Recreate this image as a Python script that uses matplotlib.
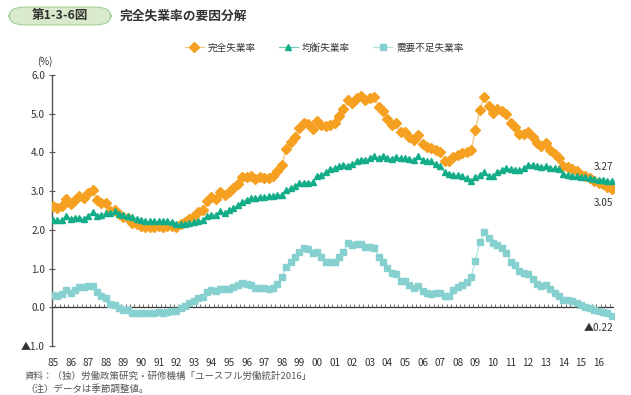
import numpy as np
import matplotlib
matplotlib.use("Agg")
import matplotlib.pyplot as plt
from matplotlib.patches import FancyBboxPatch

plt.rcParams['font.family'] = ['Noto Sans CJK JP', 'DejaVu Sans']

# quarterly, 1985Q1 - 2016Q4 (seasonally adjusted, %)
total = [2.61, 2.57, 2.61, 2.80, 2.67, 2.76, 2.87, 2.81, 2.94, 3.02,
         2.76, 2.70, 2.69, 2.50, 2.52, 2.40, 2.33, 2.30, 2.18, 2.14,
         2.10, 2.08, 2.08, 2.08, 2.10, 2.08, 2.10, 2.10, 2.07, 2.14,
         2.20, 2.27, 2.35, 2.45, 2.52, 2.74, 2.85, 2.80, 2.97, 2.91,
         2.99, 3.08, 3.19, 3.36, 3.36, 3.40, 3.31, 3.36, 3.34, 3.34,
         3.40, 3.53, 3.68, 4.09, 4.26, 4.41, 4.63, 4.76, 4.74, 4.60,
         4.82, 4.72, 4.67, 4.72, 4.76, 4.93, 5.12, 5.36, 5.27, 5.40,
         5.46, 5.36, 5.40, 5.44, 5.17, 5.06, 4.86, 4.72, 4.76, 4.52,
         4.54, 4.41, 4.31, 4.46, 4.22, 4.14, 4.11, 4.05, 4.02, 3.79,
         3.77, 3.88, 3.94, 3.98, 4.01, 4.06, 4.57, 5.10, 5.43, 5.20,
         5.03, 5.12, 5.08, 4.99, 4.76, 4.66, 4.48, 4.48, 4.53, 4.41,
         4.24, 4.17, 4.24, 4.06, 3.97, 3.85, 3.64, 3.62, 3.57, 3.51,
         3.42, 3.38, 3.34, 3.27, 3.21, 3.19, 3.11, 3.05]

equilibrium = [2.25, 2.25, 2.25, 2.35, 2.29, 2.31, 2.31, 2.29, 2.36, 2.45,
               2.37, 2.39, 2.43, 2.43, 2.48, 2.41, 2.39, 2.35, 2.33, 2.29,
               2.25, 2.23, 2.22, 2.22, 2.22, 2.22, 2.22, 2.20, 2.16, 2.14,
               2.16, 2.18, 2.20, 2.22, 2.25, 2.35, 2.39, 2.39, 2.48, 2.43,
               2.52, 2.57, 2.63, 2.71, 2.78, 2.82, 2.81, 2.84, 2.84, 2.87,
               2.88, 2.91, 2.91, 3.04, 3.08, 3.13, 3.21, 3.22, 3.22, 3.23,
               3.40, 3.42, 3.49, 3.57, 3.60, 3.64, 3.68, 3.66, 3.69, 3.77,
               3.81, 3.81, 3.85, 3.90, 3.85, 3.90, 3.85, 3.84, 3.88, 3.85,
               3.85, 3.83, 3.81, 3.90, 3.80, 3.77, 3.77, 3.70, 3.64, 3.49,
               3.45, 3.42, 3.41, 3.38, 3.34, 3.27, 3.36, 3.42, 3.49, 3.40,
               3.38, 3.49, 3.55, 3.59, 3.57, 3.55, 3.55, 3.59, 3.68, 3.68,
               3.64, 3.62, 3.64, 3.59, 3.59, 3.57, 3.45, 3.42, 3.40, 3.38,
               3.36, 3.36, 3.34, 3.31, 3.29, 3.28, 3.25, 3.27]

demand = [0.33, 0.29, 0.34, 0.45, 0.38, 0.45, 0.53, 0.53, 0.56, 0.56,
          0.39, 0.30, 0.24, 0.08, 0.06, -0.01, -0.06, -0.08, -0.14, -0.15,
          -0.15, -0.15, -0.15, -0.15, -0.13, -0.14, -0.12, -0.10, -0.09, -0.03,
          0.03, 0.10, 0.16, 0.23, 0.27, 0.40, 0.44, 0.42, 0.48, 0.48,
          0.48, 0.52, 0.57, 0.64, 0.60, 0.58, 0.51, 0.50, 0.49, 0.48,
          0.51, 0.60, 0.77, 1.05, 1.18, 1.29, 1.42, 1.52, 1.51, 1.40,
          1.42, 1.30, 1.18, 1.16, 1.16, 1.29, 1.44, 1.67, 1.60, 1.64,
          1.64, 1.56, 1.55, 1.52, 1.31, 1.16, 1.01, 0.88, 0.87, 0.67,
          0.67, 0.58, 0.50, 0.55, 0.42, 0.37, 0.35, 0.36, 0.37, 0.29,
          0.30, 0.44, 0.52, 0.58, 0.66, 0.78, 1.20, 1.68, 1.94, 1.80,
          1.65, 1.62, 1.52, 1.41, 1.18, 1.10, 0.94, 0.89, 0.85, 0.72,
          0.59, 0.56, 0.58, 0.46, 0.38, 0.29, 0.19, 0.18, 0.15, 0.11,
          0.06, 0.02, -0.01, -0.06, -0.10, -0.12, -0.16, -0.22]

years = ['85', '86', '87', '88', '89', '90', '91', '92', '93', '94', '95',
         '96', '97', '98', '99', '00', '01', '02', '03', '04', '05', '06',
         '07', '08', '09', '10', '11', '12', '13', '14', '15', '16']
ytick_vals = [-1, 0, 1, 2, 3, 4, 5, 6]
ytick_labels = ['▲1.0', '0.0', '1.0', '2.0', '3.0', '4.0', '5.0', '6.0']
names = ['完全失業率', '均衡失業率', '需要不足失業率']

c_orange = '#f5a020'
c_green = '#13ad8a'
c_cyan = '#86d1d0'
txt = '#333333'

x = np.arange(len(total))

fig = plt.figure(figsize=(6.31, 3.95), dpi=100)
ax = fig.add_axes([52 / 631, 1 - 346 / 395, 562 / 631, 271 / 395])

ax.plot(x, total, color='#f8c37a', lw=0.9, marker='D', ms=4.8,
        mfc=c_orange, mec=c_orange, label=names[0], zorder=3)
ax.plot(x, equilibrium, color='#6fcfb5', lw=0.9, marker='^', ms=5,
        mfc=c_green, mec=c_green, label=names[1], zorder=4)
ax.plot(x, demand, color='#b2e2e1', lw=0.9, marker='s', ms=4.6,
        mfc=c_cyan, mec=c_cyan, label=names[2], zorder=3)

# zero line with quarterly marks
ax.axhline(0, color='#333333', lw=0.9, zorder=2)
ax.vlines(x + 0.5, 0, 0.09, color='#555555', lw=0.6, zorder=2)

ax.set_xlim(-0.23, 127.5)
ax.set_ylim(-1, 6)
ax.set_yticks(ytick_vals)
ax.set_yticklabels(ytick_labels)
ax.set_xticks(x[::4])
ax.set_xticklabels(years)
ax.tick_params(axis='x', length=0, pad=9, labelsize=7.2, labelcolor=txt)
ax.tick_params(axis='y', direction='inout', length=4, width=0.8,
               color='#555555', pad=3, labelsize=7.2, labelcolor=txt)
for s in ['top', 'right', 'bottom']:
    ax.spines[s].set_visible(False)
ax.spines['left'].set_color('#555555')
ax.spines['left'].set_linewidth(1.0)

# end labels
ax.annotate(f'{equilibrium[-1]:.2f}', (x[-1], equilibrium[-1]), xytext=(1, 9.5),
            textcoords='offset points', ha='right', va='center', fontsize=7.2, color=txt)
ax.annotate(f'{total[-1]:.2f}', (x[-1], total[-1]), xytext=(1, -10),
            textcoords='offset points', ha='right', va='center', fontsize=7.2, color=txt)
ax.annotate(f'▲{abs(demand[-1]):.2f}', (x[-1], demand[-1]), xytext=(1, -8.5),
            textcoords='offset points', ha='right', va='center', fontsize=7.2, color=txt)

fig.text(45 / 631, 1 - 62 / 395, '(%)', ha='center', va='center', fontsize=7, color=txt)

fig.legend(loc='center', bbox_to_anchor=(324 / 631, 1 - 48 / 395), ncol=3,
           frameon=False, fontsize=6.9, handlelength=2.0, handletextpad=0.4,
           columnspacing=2.4, labelcolor=txt)

# title badge
badge = FancyBboxPatch((9 / 631, 1 - 25 / 395), 102 / 631, 18 / 395,
                       boxstyle='round,pad=0,rounding_size=0.025',
                       transform=fig.transFigure, facecolor='#d8eacb',
                       edgecolor='#a8d196', lw=0.8)
fig.patches.append(badge)
fig.text(60 / 631, 1 - 16 / 395, '第1-3-6図', ha='center', va='center',
         fontsize=9, fontweight='bold', color=txt)
fig.text(120 / 631, 1 - 16 / 395, '完全失業率の要因分解', ha='left', va='center',
         fontsize=9.2, fontweight='bold', color=txt)

fig.text(25 / 631, 1 - 376 / 395, '資料：（独）労働政策研究・研修機構「ユースフル労働統計2016」',
         ha='left', va='center', fontsize=6.8, color='#555555')
fig.text(25 / 631, 1 - 389 / 395, '（注）データは季節調整値。',
         ha='left', va='center', fontsize=6.8, color='#555555')

fig.savefig('out.png', dpi=100)
